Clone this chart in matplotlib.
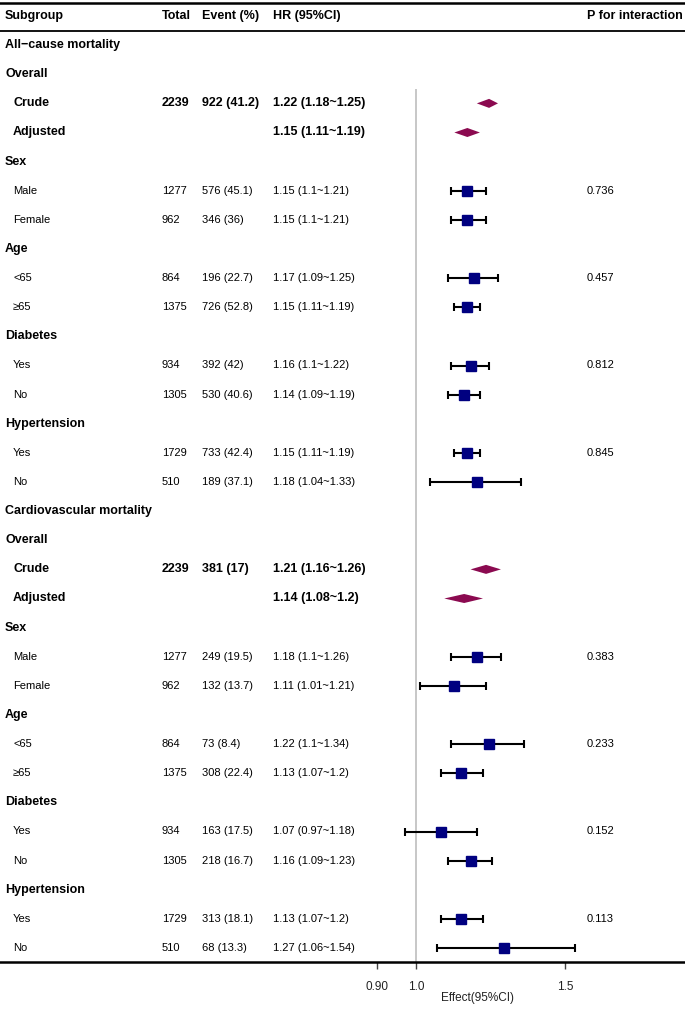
import numpy as np
import matplotlib
matplotlib.use("Agg")
import matplotlib.pyplot as plt
import matplotlib.transforms as mtransforms

plt.rcParams['font.family'] = ['Liberation Sans', 'DejaVu Sans']

# table rows (top to bottom)
labels = ["All\u2212cause mortality", "Overall", "Crude", "Adjusted",
          "Sex", "Male", "Female", "Age", "<65", "\u226565",
          "Diabetes", "Yes", "No", "Hypertension", "Yes", "No",
          "Cardiovascular mortality", "Overall", "Crude", "Adjusted",
          "Sex", "Male", "Female", "Age", "<65", "\u226565",
          "Diabetes", "Yes", "No", "Hypertension", "Yes", "No"]
# kind: h = group header, b = bold summary (diamond), n = normal subgroup
kinds = ["h", "h", "b", "b", "h", "n", "n", "h", "n", "n", "h", "n", "n", "h", "n", "n",
         "h", "h", "b", "b", "h", "n", "n", "h", "n", "n", "h", "n", "n", "h", "n", "n"]
totals = ["", "", "2239", "", "", "1277", "962", "", "864", "1375", "", "934", "1305", "", "1729", "510",
          "", "", "2239", "", "", "1277", "962", "", "864", "1375", "", "934", "1305", "", "1729", "510"]
events = ["", "", "922 (41.2)", "", "", "576 (45.1)", "346 (36)", "", "196 (22.7)", "726 (52.8)",
          "", "392 (42)", "530 (40.6)", "", "733 (42.4)", "189 (37.1)",
          "", "", "381 (17)", "", "", "249 (19.5)", "132 (13.7)", "", "73 (8.4)", "308 (22.4)",
          "", "163 (17.5)", "218 (16.7)", "", "313 (18.1)", "68 (13.3)"]
hr = [None, None, 1.22, 1.15, None, 1.15, 1.15, None, 1.17, 1.15, None, 1.16, 1.14, None, 1.15, 1.18,
      None, None, 1.21, 1.14, None, 1.18, 1.11, None, 1.22, 1.13, None, 1.07, 1.16, None, 1.13, 1.27]
lo = [None, None, 1.18, 1.11, None, 1.1, 1.1, None, 1.09, 1.11, None, 1.1, 1.09, None, 1.11, 1.04,
      None, None, 1.16, 1.08, None, 1.1, 1.01, None, 1.1, 1.07, None, 0.97, 1.09, None, 1.07, 1.06]
hi = [None, None, 1.25, 1.19, None, 1.21, 1.21, None, 1.25, 1.19, None, 1.22, 1.19, None, 1.19, 1.33,
      None, None, 1.26, 1.2, None, 1.26, 1.21, None, 1.34, 1.2, None, 1.18, 1.23, None, 1.2, 1.54]
pvals = ["", "", "", "", "", "0.736", "", "", "0.457", "", "", "0.812", "", "", "0.845", "",
         "", "", "", "", "", "0.383", "", "", "0.233", "", "", "0.152", "", "", "0.113", ""]
hr_text = ["", "", "1.22 (1.18~1.25)", "1.15 (1.11~1.19)", "", "1.15 (1.1~1.21)", "1.15 (1.1~1.21)",
           "", "1.17 (1.09~1.25)", "1.15 (1.11~1.19)", "", "1.16 (1.1~1.22)", "1.14 (1.09~1.19)",
           "", "1.15 (1.11~1.19)", "1.18 (1.04~1.33)",
           "", "", "1.21 (1.16~1.26)", "1.14 (1.08~1.2)", "", "1.18 (1.1~1.26)", "1.11 (1.01~1.21)",
           "", "1.22 (1.1~1.34)", "1.13 (1.07~1.2)", "", "1.07 (0.97~1.18)", "1.16 (1.09~1.23)",
           "", "1.13 (1.07~1.2)", "1.27 (1.06~1.54)"]
xticks = [0.9, 1.0, 1.5]
xticklabels = ["0.90", "1.0", "1.5"]

W, H = 685, 1009
fig = plt.figure(figsize=(W / 100, H / 100), dpi=100)
top_px, bot_px = 3, 962
ax = fig.add_axes([0, 1 - bot_px / H, 1, (bot_px - top_px) / H])

row0, step = 16, 29.125
ax.set_ylim((bot_px - row0) / step, (top_px - row0) / step)
k = 149 / np.log(1.5)
ax.set_xscale("log")
ax.set_xlim(np.exp(-416 / k), np.exp((W - 416) / k))

for s in ["left", "right"]:
    ax.spines[s].set_visible(False)
ax.spines["top"].set_linewidth(1.8)
ax.spines["bottom"].set_linewidth(1.8)
ax.set_yticks([])
ax.xaxis.set_minor_locator(matplotlib.ticker.NullLocator())
ax.set_xticks(xticks)
ax.set_xticklabels(xticklabels, fontsize=8.5, color="#222222")
ax.tick_params(axis="x", length=5, width=1, pad=9, color="#444444")

ax.axhline(0.5, color="black", lw=1.3)
ax.vlines(1.0, 2.5, (bot_px - row0) / step, color="#bdbdbd", lw=1.2)

tr = mtransforms.blended_transform_factory(ax.transAxes, ax.transData)

def px(x):
    return x / W

BFS, NFS = 9, 8
hdr = dict(fontsize=BFS, fontweight="bold", va="center", transform=tr)
ax.text(px(5), 0, "Subgroup", ha="left", **hdr)
ax.text(px(162), 0, "Total", ha="left", **hdr)
ax.text(px(202), 0, "Event (%)", ha="left", **hdr)
ax.text(px(273), 0, "HR (95%CI)", ha="left", **hdr)
ax.text(px(683), 0, "P for interaction", ha="right", **hdr)

for i in range(len(labels)):
    y = i + 1
    kd = kinds[i]
    if kd == "h":
        ax.text(px(5), y, labels[i], ha="left", va="center", fontsize=BFS, fontweight="bold", transform=tr)
        continue
    fw = "bold" if kd == "b" else "normal"
    fs = BFS if kd == "b" else NFS
    ax.text(px(13), y, labels[i], ha="left", va="center", fontsize=fs, fontweight=fw, transform=tr)
    ax.text(px(162), y, totals[i], ha="left", va="center", fontsize=fs, fontweight=fw, transform=tr)
    ax.text(px(202), y, events[i], ha="left", va="center", fontsize=fs, fontweight=fw, transform=tr)
    ax.text(px(273), y, hr_text[i], ha="left", va="center", fontsize=fs, fontweight=fw, transform=tr)
    if pvals[i]:
        ax.text(px(587), y, pvals[i], ha="left", va="center", fontsize=NFS, transform=tr)
    if kd == "b":
        h = 0.155
        ax.fill([lo[i], hr[i], hi[i], hr[i]], [y, y - h, y, y + h], color="#8B0A50", lw=0)
    else:
        ax.errorbar(hr[i], y, xerr=[[hr[i] - lo[i]], [hi[i] - hr[i]]], fmt="s", color="black",
                    ecolor="black", elinewidth=1.5, capsize=2.6, capthick=1.5,
                    markersize=7.5, markerfacecolor="#000080", markeredgecolor="#000080")

fig.text(477 / W, 1 - 998 / H, "Effect(95%CI)", ha="center", va="center", fontsize=8.5, color="#222222")

fig.savefig("out.png", dpi=100)
